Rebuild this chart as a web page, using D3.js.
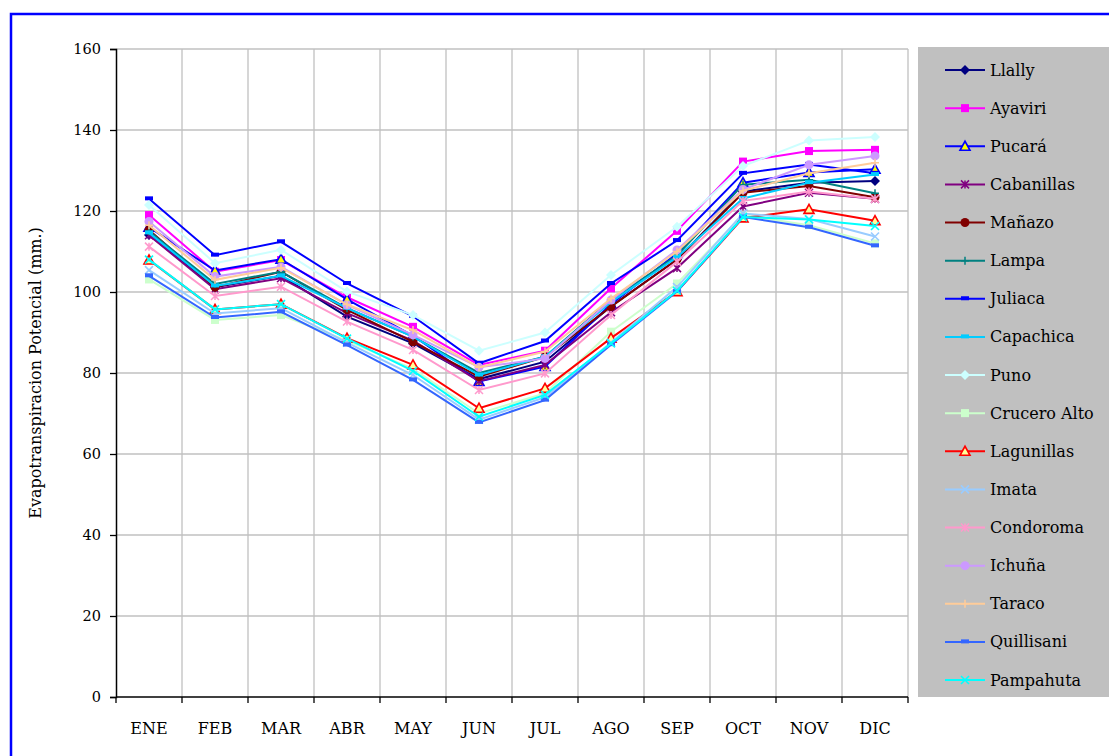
<!DOCTYPE html>
<html>
<head>
<meta charset="utf-8">
<script src="https://cdn.jsdelivr.net/npm/d3@7"></script>
<style>
  body { margin: 0; background: #fff; }
  svg { display: block; }
  text { font-family: "DejaVu Serif", "Liberation Serif", serif; fill: #000; }
</style>
</head>
<body>
<svg id="chart"></svg>
<script>
const months = ["ENE", "FEB", "MAR", "ABR", "MAY", "JUN", "JUL", "AGO", "SEP", "OCT", "NOV", "DIC"];
const yTicks = [0, 20, 40, 60, 80, 100, 120, 140, 160];

const stations = ["Llally", "Ayaviri", "Pucará", "Cabanillas", "Mañazo", "Lampa", "Juliaca", "Capachica",
  "Puno", "Crucero Alto", "Lagunillas", "Imata", "Condoroma", "Ichuña", "Taraco", "Quillisani", "Pampahuta"];

const llally      = [114.1, 101.2, 104.0, 93.9, 87.3, 78.5, 82.8, 96.5, 108.0, 124.8, 127.0, 127.4];
const ayaviri     = [119.0, 105.0, 107.9, 98.7, 91.4, 82.0, 85.5, 100.9, 115.1, 132.2, 134.8, 135.1];
const pucara      = [116.0, 105.3, 108.1, 98.2, 89.2, 77.9, 81.6, 97.0, 109.5, 127.0, 129.5, 130.3];
const cabanillas  = [114.0, 100.7, 103.4, 94.8, 88.0, 78.0, 82.0, 95.0, 105.9, 121.1, 124.5, 123.0];
const manazo      = [115.3, 101.2, 105.0, 95.6, 87.7, 79.1, 84.0, 96.4, 108.0, 124.5, 126.2, 123.4];
const lampa       = [115.0, 102.0, 105.0, 96.0, 89.0, 80.0, 84.0, 98.0, 109.0, 126.5, 127.7, 124.4];
const juliaca     = [123.0, 109.1, 112.4, 102.1, 94.0, 82.4, 87.9, 102.1, 112.7, 129.3, 131.5, 129.3];
const capachica   = [114.6, 101.5, 104.0, 96.0, 89.0, 79.5, 84.0, 97.5, 108.6, 123.1, 127.0, 129.0];
const puno        = [121.5, 107.1, 110.4, 100.1, 94.3, 85.5, 90.0, 104.2, 116.1, 131.1, 137.4, 138.3];
const cruceroAlto = [103.1, 93.1, 94.3, 88.0, 81.0, 70.0, 75.0, 90.2, 102.1, 119.0, 116.5, 112.0];
const lagunillas  = [107.9, 95.7, 97.0, 88.6, 82.0, 71.3, 76.2, 88.6, 100.1, 118.3, 120.4, 117.6];
const imata       = [105.4, 94.7, 96.0, 87.5, 79.5, 68.5, 74.0, 87.5, 101.2, 119.4, 118.0, 113.7];
const condoroma   = [111.2, 99.0, 101.3, 92.7, 85.7, 75.8, 79.9, 94.3, 107.5, 122.5, 124.8, 123.0];
const ichuna      = [117.4, 103.8, 106.2, 96.8, 89.4, 81.4, 83.6, 98.0, 110.4, 125.3, 131.4, 133.6];
const taraco      = [116.5, 103.0, 106.0, 96.9, 90.6, 81.4, 85.3, 98.4, 110.0, 125.0, 129.3, 131.9];
const quillisani  = [104.0, 93.7, 95.1, 86.9, 78.3, 67.8, 73.3, 87.0, 100.1, 118.5, 116.0, 111.4];
const pampahuta   = [108.0, 95.7, 97.0, 88.5, 80.5, 69.2, 74.6, 87.3, 100.3, 118.5, 117.9, 116.3];

const values = [llally, ayaviri, pucara, cabanillas, manazo, lampa, juliaca, capachica,
  puno, cruceroAlto, lagunillas, imata, condoroma, ichuna, taraco, quillisani, pampahuta];

const colors = ["#000080", "#FF00FF", "#0000FF", "#800080", "#800000", "#008080", "#0000FF", "#00CCFF",
  "#CCFFFF", "#CCFFCC", "#FF0000", "#99CCFF", "#FF99CC", "#CC99FF", "#FFCC99", "#3366FF", "#00FFFF"];
const markers = ["diamond", "square", "triangle", "asterisk", "circle", "plus", "dash", "dash",
  "diamond", "square", "triangle", "x", "asterisk", "circle", "plus", "dash", "x"];
const fills = [null, null, "#FFFF00", null, null, null, null, null,
  null, null, "#FFFF99", null, null, null, null, null, null];

const width = 1109, height = 756;
const margin = { left: 116, right: 908, top: 49, bottom: 697 };
const fontSize = "16px";
const tickFont = "14.5px";

const svg = d3.select("#chart").attr("width", width).attr("height", height);

// outer blue frame (runs off the right and bottom of the picture)
svg.append("rect")
  .attr("x", 11).attr("y", 14)
  .attr("width", 1120).attr("height", 780)
  .attr("fill", "#fff")
  .attr("stroke", "#0000FF")
  .attr("stroke-width", 2.5);

const x = d3.scaleBand().domain(months).range([margin.left, margin.right]).paddingInner(0).paddingOuter(0);
const y = d3.scaleLinear().domain([0, 160]).range([margin.bottom, margin.top]);
const cx = m => x(m) + x.bandwidth() / 2;

// grid
const grid = svg.append("g");
grid.selectAll("line.h")
  .data(yTicks.filter(d => d > 0))
  .enter().append("line")
  .attr("x1", margin.left).attr("x2", margin.right)
  .attr("y1", d => y(d)).attr("y2", d => y(d))
  .attr("stroke", "#C0C0C0").attr("stroke-width", 1.3);
grid.selectAll("line.v")
  .data(months.slice(1).map(m => x(m)).concat([margin.right]))
  .enter().append("line")
  .attr("x1", d => d).attr("x2", d => d)
  .attr("y1", margin.top).attr("y2", margin.bottom)
  .attr("stroke", "#C0C0C0").attr("stroke-width", 1.3);

// y axis
const yAxis = svg.append("g")
  .attr("transform", `translate(${margin.left},0)`)
  .call(d3.axisLeft(y).tickValues(yTicks).tickSize(6).tickPadding(9));
yAxis.select(".domain").attr("stroke", "#000").attr("stroke-width", 1.5);
yAxis.selectAll(".tick line").attr("stroke", "#000").attr("stroke-width", 1.3);
yAxis.selectAll(".tick text").style("font-size", tickFont).style("font-family", "DejaVu Serif, serif");

// x axis: ticks on category boundaries, labels on centres
const xAxisG = svg.append("g").attr("transform", `translate(0,${margin.bottom})`);
xAxisG.append("line")
  .attr("x1", margin.left).attr("x2", margin.right)
  .attr("stroke", "#000").attr("stroke-width", 1.5);
xAxisG.selectAll("line.tick")
  .data(months.map(m => x(m)).concat([margin.right]))
  .enter().append("line")
  .attr("x1", d => d).attr("x2", d => d)
  .attr("y1", 0).attr("y2", 6)
  .attr("stroke", "#000").attr("stroke-width", 1.3);
xAxisG.selectAll("text")
  .data(months)
  .enter().append("text")
  .attr("x", d => cx(d))
  .attr("y", 37)
  .attr("text-anchor", "middle")
  .style("font-size", fontSize)
  .text(d => d);

// y title
svg.append("text")
  .attr("transform", `translate(41,${(margin.top + margin.bottom) / 2}) rotate(-90)`)
  .attr("text-anchor", "middle")
  .style("font-size", fontSize)
  .text("Evapotranspiracion Potencial (mm.)");

function drawMarker(g, type, color, fill) {
  const s = 4;
  if (type === "diamond") {
    g.append("path").attr("d", `M0,${-s - 1}L${s + 1},0L0,${s + 1}L${-s - 1},0Z`).attr("fill", color);
  } else if (type === "square") {
    g.append("rect").attr("x", -s).attr("y", -s).attr("width", 2 * s).attr("height", 2 * s).attr("fill", color);
  } else if (type === "triangle") {
    g.append("path").attr("d", `M0,${-s - 1}L${s + 1},${s}L${-s - 1},${s}Z`)
      .attr("fill", fill).attr("stroke", color).attr("stroke-width", 1.6);
  } else if (type === "circle") {
    g.append("circle").attr("r", s + 0.5).attr("fill", color);
  } else if (type === "plus") {
    g.append("path").attr("d", `M${-s},0H${s}M0,${-s}V${s}`).attr("stroke", color).attr("stroke-width", 1.5);
  } else if (type === "x") {
    g.append("path").attr("d", `M${-s},${-s}L${s},${s}M${-s},${s}L${s},${-s}`).attr("stroke", color).attr("stroke-width", 1.6);
  } else if (type === "asterisk") {
    g.append("path").attr("d", `M${-s},${-s}L${s},${s}M${-s},${s}L${s},${-s}M0,${-s}V${s}`).attr("stroke", color).attr("stroke-width", 1.5);
  } else if (type === "dash") {
    g.append("rect").attr("x", -s).attr("y", -2.5).attr("width", 2 * s).attr("height", 4).attr("fill", color);
  }
}

const line = d3.line().x((d, i) => cx(months[i])).y(d => y(d));

const series = svg.append("g");
stations.forEach((name, k) => {
  const g = series.append("g");
  g.append("path")
    .datum(values[k])
    .attr("d", line)
    .attr("fill", "none")
    .attr("stroke", colors[k])
    .attr("stroke-width", 2);
  values[k].forEach((v, i) => {
    const mg = g.append("g").attr("transform", `translate(${cx(months[i])},${y(v)})`);
    drawMarker(mg, markers[k], colors[k], fills[k]);
  });
});

// legend
const legend = svg.append("g");
legend.append("rect")
  .attr("x", 918).attr("y", 47)
  .attr("width", 200).attr("height", 650)
  .attr("fill", "#C0C0C0");
const ly = d3.scalePoint().domain(stations).range([70, 680]);
stations.forEach((name, k) => {
  const row = legend.append("g").attr("transform", `translate(0,${ly(name)})`);
  row.append("line")
    .attr("x1", 945).attr("x2", 985)
    .attr("stroke", colors[k]).attr("stroke-width", 2);
  const mg = row.append("g").attr("transform", "translate(965,0)");
  drawMarker(mg, markers[k], colors[k], fills[k]);
  row.append("text")
    .attr("x", 990).attr("y", 5.5)
    .style("font-size", fontSize)
    .text(name);
});
</script>
</body>
</html>
